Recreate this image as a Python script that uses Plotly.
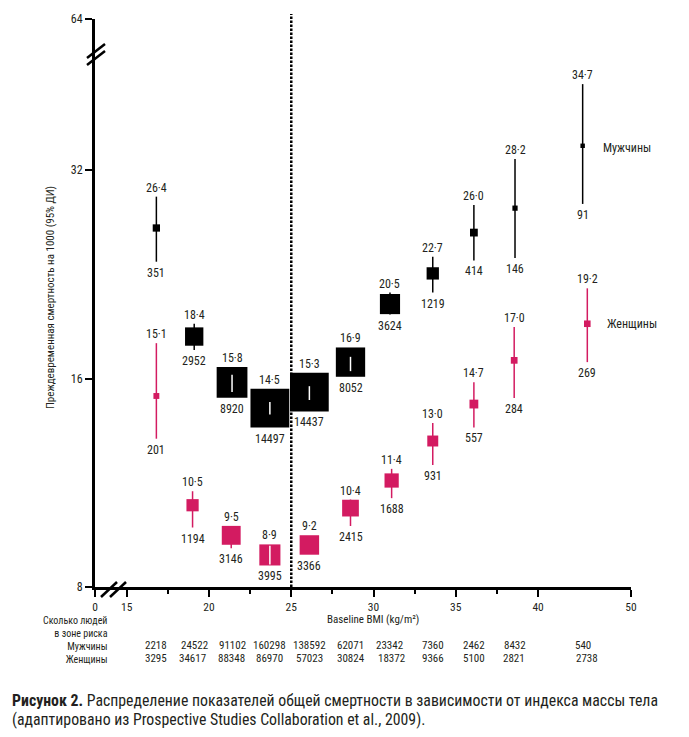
import math
import plotly.graph_objects as go

# ---------------- data ----------------
bmi_men = [16.8, 19.1, 21.4, 23.7, 26.1, 28.6, 31.0, 33.6, 36.1, 38.6, 44.8]
bmi_women = [16.8, 19.0, 21.35, 23.7, 26.1, 28.6, 31.1, 33.6, 36.1, 38.55, 45.3]

rate_men = [26.4, 18.4, 15.8, 14.5, 15.3, 16.9, 20.5, 22.7, 26.0, 28.2, 34.7]
lo_men = [23.6, 17.6, 15.3, 14.2, 14.9, 16.4, 19.8, 21.3, 23.7, 23.9, 28.6]
hi_men = [29.3, 19.2, 16.2, 14.8, 15.6, 17.2, 21.3, 24.0, 28.5, 33.2, 42.6]
deaths_men = [351, 2952, 8920, 14497, 14437, 8052, 3624, 1219, 414, 146, 91]

rate_women = [15.1, 10.5, 9.5, 8.9, 9.2, 10.4, 11.4, 13.0, 14.7, 17.0, 19.2]
lo_women = [13.1, 9.75, 9.1, 8.62, 9.0, 9.8, 10.75, 12.0, 13.6, 15.0, 16.9]
hi_women = [18.0, 11.0, 9.8, 9.18, 9.4, 10.7, 11.85, 13.8, 15.8, 19.0, 21.6]
deaths_women = [201, 1194, 3146, 3995, 3366, 2415, 1688, 931, 557, 284, 269]

at_risk_men = [2218, 24522, 91102, 160298, 138592, 62071, 23342, 7360, 2462, 8432, 540]
at_risk_women = [3295, 34617, 88348, 86970, 57023, 30824, 18372, 9366, 5100, 2821, 2738]

x_tick_labels = ["0", "15", "20", "25", "30", "35", "40", "50"]
y_tick_labels = ["8", "16", "32", "64"]
table_row_labels = ["Сколько людей", "в зоне риска", "Мужчины", "Женщины"]

# ---------------- style / layout constants ----------------
W, H = 689, 737
ML, MR, MT, MB = 95, 58, 19, 150
PW, PH = W - ML - MR, H - MT - MB
FONT = "Roboto Condensed, Liberation Sans Narrow, Roboto, sans-serif"
TXT = "#231f20"
BLACK = "#000000"
PINK = "#d31b61"

X_START = 13.07          # axis value where the broken "0" tick sits
X_COMPRESS = 0.565       # compression of the 40-50 segment
Y_TOP = 52.9             # axis value where the broken "64" tick sits
PX_PER_OCT = PH / (math.log2(Y_TOP) - 3)

white_ci_men = [False, False, True, True, True, True, False, False, False, False, False]
white_ci_women = [False, False, False, True, False, False, False, False, False, False, False]


def xmap(b):
    return b if b <= 40 else 40 + (b - 40) * X_COMPRESS


def msize(d):
    return 0.31 * math.sqrt(d) + 1.5


def px_x(px):
    return (px - ML) / PW


def px_y(py):
    return (MT + PH - py) / PH


def fmt(v):
    return f"{v:.1f}".replace(".", "·")


fig = go.Figure()
annotations = []

series = [
    ("Мужчины", bmi_men, rate_men, lo_men, hi_men, deaths_men, BLACK, white_ci_men, -2),
    ("Женщины", bmi_women, rate_women, lo_women, hi_women, deaths_women, PINK, white_ci_women, 0),
]

for name, bmi, rate, lo, hi, deaths, col, wflags, lshift in series:
    xs = [xmap(b) for b in bmi]
    sizes = [msize(d) for d in deaths]
    fig.add_trace(go.Scatter(
        x=xs, y=rate, mode="markers", name=name,
        marker=dict(symbol="square", size=sizes, color=col, opacity=1, line=dict(width=0)),
        error_y=dict(type="data", symmetric=False,
                     array=[h - r for h, r in zip(hi, rate)],
                     arrayminus=[r - l for r, l in zip(rate, lo)],
                     color=col, thickness=1.5, width=0),
        showlegend=False, hoverinfo="skip",
    ))
    # white CI segments inside large boxes
    wx, wy = [], []
    for i, f in enumerate(wflags):
        if f:
            wx += [xs[i], xs[i], None]
            wy += [lo[i], hi[i], None]
    if wx:
        fig.add_trace(go.Scatter(x=wx, y=wy, mode="lines",
                                 line=dict(color="white", width=1.5),
                                 showlegend=False, hoverinfo="skip"))
    for i in range(len(rate)):
        half = sizes[i] / 2 / PX_PER_OCT
        top = max(hi[i], rate[i] * 2 ** half)
        bot = min(lo[i], rate[i] / 2 ** half)
        annotations.append(dict(x=xs[i], y=math.log10(top), xref="x", yref="y",
                                text=fmt(rate[i]), showarrow=False, yanchor="bottom",
                                yshift=0, font=dict(size=12, color=TXT, family=FONT)))
        annotations.append(dict(x=xs[i], y=math.log10(bot), xref="x", yref="y",
                                text=str(deaths[i]), showarrow=False, yanchor="top",
                                yshift=-2, font=dict(size=12, color=TXT, family=FONT)))
    # series label
    annotations.append(dict(x=xs[-1], y=math.log10(rate[-1]), xref="x", yref="y",
                            text=name, showarrow=False, xanchor="left", xshift=18,
                            yshift=lshift, font=dict(size=12, color=TXT, family=FONT)))

# numbers at risk table
for i in range(len(at_risk_men)):
    annotations.append(dict(x=xmap(bmi_men[i]), y=px_y(645), xref="x", yref="paper",
                            text=str(at_risk_men[i]), showarrow=False, yanchor="middle",
                            font=dict(size=11, color=TXT, family=FONT)))
    annotations.append(dict(x=xmap(bmi_women[i]), y=px_y(658), xref="x", yref="paper",
                            text=str(at_risk_women[i]), showarrow=False, yanchor="middle",
                            font=dict(size=11, color=TXT, family=FONT)))

annotations.append(dict(x=px_x(110), y=px_y(639.5), xref="paper", yref="paper",
                        text="<br>".join(table_row_labels), align="right",
                        showarrow=False, xanchor="right", yanchor="middle",
                        font=dict(size=10, color=TXT, family=FONT)))

# axis titles
annotations.append(dict(x=px_x(373), y=px_y(619), xref="paper", yref="paper",
                        text="Baseline BMI (kg/m²)", showarrow=False, yanchor="middle",
                        font=dict(size=11, color=TXT, family=FONT)))
annotations.append(dict(x=px_x(50), y=px_y(298), xref="paper", yref="paper",
                        text="Преждевременная смертность на 1000 (95% ДИ)", textangle=-90,
                        showarrow=False, xanchor="center", yanchor="middle",
                        font=dict(size=11, color=TXT, family=FONT)))

# caption
annotations.append(dict(x=px_x(10), y=px_y(700), xref="paper", yref="paper",
                        text="<b>Рисунок 2.</b> Распределение показателей общей смертности в зависимости от индекса массы тела",
                        showarrow=False, xanchor="left", yanchor="middle",
                        font=dict(size=15.8, color=TXT, family=FONT)))
annotations.append(dict(x=px_x(10), y=px_y(719), xref="paper", yref="paper",
                        text="(адаптировано из Prospective Studies Collaboration et al., 2009).",
                        showarrow=False, xanchor="left", yanchor="middle",
                        font=dict(size=15.8, color=TXT, family=FONT)))

shapes = []
# dotted reference line at BMI 25
shapes.append(dict(type="line", xref="x", yref="paper", x0=25, x1=25, y0=0, y1=px_y(14),
                   line=dict(color=BLACK, width=2.5, dash="2.5px,1.5px")))
# axis break marks
for (x0, y0, x1, y1) in [(87, 58, 105, 44), (87, 65, 105, 51),
                         (101, 597, 117, 582), (110, 597, 126, 582)]:
    shapes.append(dict(type="line", xref="paper", yref="paper",
                       x0=px_x(x0), y0=px_y(y0), x1=px_x(x1), y1=px_y(y1),
                       line=dict(color=BLACK, width=2.5)))

fig.update_layout(
    width=W, height=H,
    margin=dict(l=ML, r=MR, t=MT, b=MB),
    paper_bgcolor="white", plot_bgcolor="white",
    font=dict(family=FONT, size=12, color=TXT),
    annotations=annotations, shapes=shapes,
    xaxis=dict(range=[X_START, xmap(50)],
               tickvals=[X_START, 15, 20, 25, 30, 35, 40, xmap(50)],
               ticktext=x_tick_labels,
               showline=True, linewidth=3, linecolor=BLACK,
               ticks="outside", ticklen=7, tickwidth=2, tickcolor=BLACK,
               minor=dict(tickvals=[17.5, 22.5, 27.5, 32.5, 37.5], ticks="outside",
                          ticklen=4, tickwidth=2, tickcolor=BLACK),
               showgrid=False, zeroline=False,
               tickfont=dict(size=11.5, color=TXT, family=FONT)),
    yaxis=dict(type="log", range=[math.log10(8), math.log10(Y_TOP)],
               tickvals=[8, 16, 32, Y_TOP], ticktext=y_tick_labels,
               showline=True, linewidth=3, linecolor=BLACK,
               ticks="outside", ticklen=7, tickwidth=2, tickcolor=BLACK,
               showgrid=False, zeroline=False,
               tickfont=dict(size=12, color=TXT, family=FONT)),
)

fig.write_html("out.html")
